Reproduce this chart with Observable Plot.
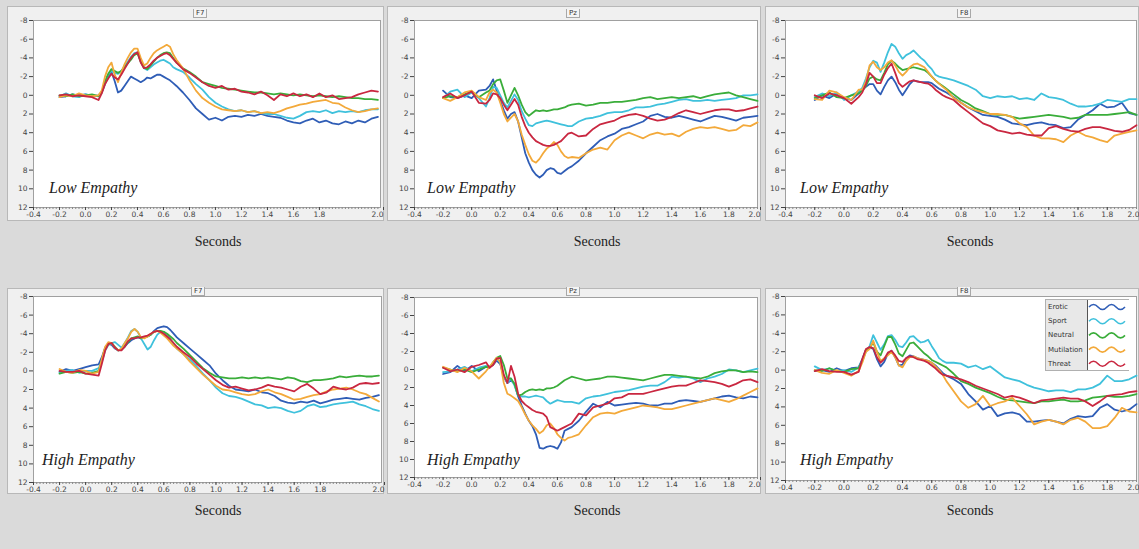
<!DOCTYPE html>
<html><head><meta charset="utf-8">
<script src="https://cdn.jsdelivr.net/npm/d3@7"></script>
<script src="https://cdn.jsdelivr.net/npm/@observablehq/plot@0.6"></script>
<style>
body{margin:0;background:#dadada;}
#root{position:relative;width:1139px;height:549px;background:#dadada;overflow:hidden;font-family:"DejaVu Sans",sans-serif;}
.frame{position:absolute;background:#f0f0f0;border:1px solid #b8b8b8;box-sizing:border-box;}
.holder{position:absolute;}
.holder svg{overflow:visible;}
.ptitle{position:absolute;font-size:7px;line-height:8px;height:9px;padding:0 2px;border:1px solid #a8a8a8;border-top:none;background:#f4f4f4;color:#333;box-sizing:border-box;}
.secs{position:absolute;font-family:"Liberation Serif","DejaVu Serif",serif;font-size:14px;color:#222;transform:translateX(-50%);white-space:nowrap;}
.emp{position:absolute;font-family:"Liberation Serif","DejaVu Serif",serif;font-style:italic;font-size:16px;color:#222;white-space:nowrap;}
.legend{position:absolute;background:#e8e8e8;border:1px solid #b0b0b0;box-sizing:border-box;}
.legend .lab{position:absolute;font-size:7px;color:#333;}
.legend svg{position:absolute;}
</style></head>
<body><div id="root"></div>
<script>
const series = ["Erotic","Sport","Neutral","Mutilation","Threat"];
const colors = ["#2f5db6","#3fc1dc","#3aad3a","#f3a93a","#c92740"];
const yTicks = [-8,-6,-4,-2,0,2,4,6,8,10,12];
const xTicksF7 = [-0.4,-0.2,0.0,0.2,0.4,0.6,0.8,1.0,1.2,1.4,1.6,1.8,2.27];
const xTicksMid = [-0.4,-0.2,0.0,0.2,0.4,0.6,0.8,1.0,1.2,1.4,1.6,1.8,2.0];

const timeF7 = [-0.2,-0.15,-0.1,-0.05,0,0.05,0.1,
 0.125,0.15,0.175,0.2,0.225,0.25,0.275,0.3,0.325,0.35,0.375,0.4,0.425,0.45,0.475,0.5,0.525,0.55,0.575,0.6,0.625,0.65,0.675,0.7,
 0.75,0.8,0.85,0.9,0.95,1.0,1.05,1.1,1.15,1.2,1.25,1.3,1.35,1.4,1.45,1.5,1.55,1.6,1.65,1.7,1.75,1.8,1.85,1.9,1.95,2.0,2.05,2.1,2.15,2.2,2.25];
const timeMid = [-0.2,-0.15,-0.1,-0.05,0,0.05,0.1,
 0.125,0.15,0.175,0.2,0.225,0.25,0.275,0.3,0.325,0.35,0.375,0.4,0.425,0.45,0.475,0.5,0.525,0.55,0.575,0.6,0.625,0.65,0.675,0.7,
 0.75,0.8,0.85,0.9,0.95,1.0,1.05,1.1,1.15,1.2,1.25,1.3,1.35,1.4,1.45,1.5,1.55,1.6,1.65,1.7,1.75,1.8,1.85,1.9,1.95,2.0];

// F7 Low Empathy
const f7LowErotic = [0.2,0.1,-0.1,0,-0.1,0.1,0,
 -0.3,-1.2,-2.0,-2.5,-1.5,-0.3,-0.5,-1.0,-1.5,-2.0,-1.8,-1.6,-1.4,-1.6,-1.9,-1.8,-2.0,-2.2,-2.2,-2.0,-1.8,-1.6,-1.3,-1.0,
 -0.3,0.5,1.4,2.0,2.6,2.4,2.7,2.3,2.2,2.3,2.1,2.2,2.0,2.2,2.3,2.4,2.7,2.9,3.0,2.7,2.5,2.9,2.7,3.0,3.1,2.8,3.0,2.7,2.9,2.5,2.3];
const f7LowSport = [0.1,-0.2,0.1,0.2,-0.1,0,0.1,
 -0.3,-1.3,-2.2,-2.6,-2.4,-2.3,-2.6,-3.1,-3.6,-4.1,-4.5,-4.6,-3.6,-2.9,-2.7,-3.0,-3.3,-3.5,-3.7,-3.8,-3.6,-3.4,-3.0,-2.8,
 -2.5,-1.9,-1.2,-0.6,0.2,0.8,1.2,1.5,1.7,1.6,1.8,1.7,1.9,2.0,2.0,2.2,2.4,2.5,2.2,1.8,1.7,1.8,1.6,1.9,1.7,1.8,1.7,1.8,1.6,1.5,1.5];
const f7LowNeutral = [0,0.1,-0.1,0.1,0,-0.1,0.1,
 -0.3,-1.5,-2.3,-2.8,-2.6,-2.4,-2.6,-3.0,-3.4,-3.8,-4.3,-4.5,-3.6,-3.0,-2.8,-3.2,-3.6,-4.0,-4.3,-4.5,-4.6,-4.5,-4.0,-3.5,
 -2.9,-2.5,-2.0,-1.4,-1.2,-1.0,-0.8,-0.7,-0.6,-0.5,-0.4,-0.3,-0.3,-0.2,-0.1,-0.2,-0.1,0,-0.1,0,0.1,0,0.1,0.2,0.1,0.2,0.3,0.3,0.4,0.4,0.5];
const f7LowMutilation = [0.2,0,0.1,-0.2,0,0.1,0,
 -0.5,-2.0,-3.0,-3.5,-2.2,-1.4,-2.4,-3.3,-4.0,-4.6,-5.0,-5.0,-4.0,-3.2,-3.4,-4.0,-4.5,-4.8,-5.0,-5.2,-5.4,-5.2,-4.4,-3.8,
 -2.9,-1.6,-0.5,0.3,0.8,1.2,1.5,1.6,1.7,1.6,1.8,1.7,1.9,1.8,1.9,1.7,1.4,1.2,1.0,0.9,0.7,0.6,0.5,0.8,0.9,1.3,1.6,1.8,1.7,1.5,1.4];
const f7LowThreat = [0,-0.1,0.1,0,0.1,0.2,0.5,
 -0.2,-1.2,-1.8,-2.3,-1.9,-1.7,-2.2,-2.8,-3.4,-4.0,-4.4,-4.6,-3.5,-2.9,-3.0,-3.3,-3.7,-4.0,-4.2,-4.4,-4.5,-4.3,-3.9,-3.5,
 -2.8,-2.4,-1.9,-1.4,-1.0,-0.8,-1.0,-0.6,-0.7,-0.4,-0.3,-0.1,-0.4,0.0,0.5,-0.1,0.1,-0.2,0.1,-0.1,0.2,-0.2,0.2,0.0,0.4,0.3,0.2,-0.1,-0.3,-0.5,-0.4];

// Pz Low Empathy
const pzLowErotic = [-0.5,0.2,0.3,0,0.3,-0.5,-0.6,
 -1.0,-1.7,-0.5,0.6,1.6,2.5,2.0,1.8,2.8,4.5,6.2,7.2,8.0,8.5,8.8,8.5,8.0,7.8,7.9,8.3,8.4,8.1,7.8,7.6,
 7.0,6.2,5.5,4.8,4.4,4.1,3.6,3.4,3.1,2.8,2.2,2.0,2.3,2.4,2.2,2.4,2.6,2.8,2.5,2.2,2.3,2.5,2.7,2.4,2.3,2.2];
const pzLowSport = [0.3,-0.4,-0.6,0.2,-0.3,0.3,1.2,
 0.3,-0.9,-0.8,0.0,0.8,1.3,0.6,-0.1,0.5,1.7,2.5,3.2,3.3,3.0,2.9,2.8,2.7,2.8,2.9,3.0,3.1,3.2,3.3,3.3,
 2.8,2.5,2.4,2.2,1.9,1.8,1.8,1.6,1.3,1.3,1.2,1.0,0.9,0.7,0.5,0.4,0.6,0.6,0.5,0.6,0.5,0.4,0.3,0.0,0.0,-0.1];
const pzLowNeutral = [0.3,0.1,0.2,-0.1,-0.4,0.2,-0.3,
 -0.5,-1.2,-1.6,-1.7,-0.5,0.8,0.0,-0.8,0.0,1.0,1.8,2.2,1.9,1.6,1.7,1.6,1.7,1.6,1.5,1.5,1.4,1.3,1.1,1.0,
 0.9,1.1,1.0,0.8,0.8,0.7,0.7,0.6,0.5,0.3,0.2,0.4,0.3,0.2,0.3,0.2,0.1,0.3,0.1,-0.1,-0.2,-0.3,0.0,0.2,0.4,0.6];
const pzLowMutilation = [0.3,0.6,0.2,-0.3,-0.5,0.2,0.5,
 -0.3,-0.6,-0.3,0.8,2.0,2.8,2.4,2.0,2.8,4.2,5.3,6.3,7.0,7.2,6.8,6.2,5.7,5.4,5.0,5.3,6.0,6.5,6.7,6.6,
 6.7,6.2,5.8,5.6,5.8,4.8,4.3,4.0,4.3,4.6,4.2,4.0,4.2,4.1,4.4,3.9,3.6,3.4,3.5,3.4,3.6,3.8,3.7,3.2,3.3,2.9];
const pzLowThreat = [0.2,-0.2,0.3,0,-0.4,0.8,0.9,
 0.5,-0.2,-0.1,0.3,1.0,1.6,1.0,0.4,1.0,2.3,3.3,4.0,4.5,4.9,5.1,5.3,5.4,5.4,5.3,5.1,4.9,4.5,4.1,4.0,
 4.4,4.3,3.6,3.1,2.9,2.7,2.3,2.1,2.0,2.2,2.5,2.7,2.6,2.3,1.9,1.6,1.8,2.0,1.8,1.6,1.5,1.5,1.7,1.6,1.4,1.2];

// F8 Low Empathy
const f8LowErotic = [0.5,0.0,0.3,-0.2,0.3,0.5,-0.2,
 -0.6,-0.9,-1.2,-1.2,-0.5,-0.1,-0.9,-1.6,-2.0,-1.4,-0.6,0.0,-0.6,-1.2,-1.6,-1.5,-1.4,-1.4,-1.4,-1.3,-1.0,-0.7,-0.5,-0.3,
 0.2,0.8,1.3,1.7,2.1,2.2,2.3,2.6,3.0,3.1,3.2,3.0,2.9,3.1,3.2,3.5,3.4,2.6,2.1,1.6,0.9,1.3,1.2,0.8,1.9,2.1];
const f8LowSport = [0.2,-0.2,0.1,-0.3,0.5,0.0,-0.4,
 -0.8,-1.8,-3.0,-3.7,-3.5,-2.5,-3.5,-4.6,-5.5,-5.2,-4.5,-3.9,-4.3,-4.5,-4.8,-4.4,-4.0,-3.7,-3.2,-2.8,-2.2,-2.0,-1.9,-1.8,
 -1.6,-1.3,-1.0,-0.6,0.1,0.3,0.1,0.2,0.1,0.4,0.3,0.5,-0.2,0.2,0.3,0.5,0.9,1.2,1.2,1.1,0.9,0.5,0.6,0.7,0.4,0.4];
const f8LowNeutral = [0.3,0.0,-0.3,0.2,0.3,0.0,-0.2,
 -0.5,-1.0,-1.8,-2.0,-1.7,-1.6,-2.4,-3.3,-3.7,-3.4,-3.0,-2.7,-2.8,-2.9,-3.0,-2.9,-2.8,-2.7,-2.4,-2.0,-1.6,-1.25,-1.0,-0.7,
 -0.1,0.5,0.9,1.4,1.7,2.0,2.1,2.1,2.3,2.5,2.4,2.3,2.2,2.1,2.2,2.3,2.5,2.4,2.1,2.1,2.1,2.1,2.0,1.9,1.8,2.1];
const f8LowMutilation = [0.4,0.5,-0.5,-0.3,0.2,0.5,-0.6,
 -0.6,-1.5,-3.2,-3.6,-3.0,-2.7,-3.0,-3.5,-3.75,-3.2,-2.5,-2.1,-2.5,-3.0,-3.3,-3.4,-3.2,-3.0,-2.5,-2.0,-1.6,-1.25,-0.9,-0.6,
 0.3,0.8,1.3,1.6,1.8,2.0,2.0,2.1,2.3,3.0,3.4,4.3,4.6,4.6,4.7,5.0,4.3,3.9,4.3,4.5,4.8,5.0,4.3,4.1,3.9,3.75];
const f8LowThreat = [0.0,0.3,-0.2,0.0,0.3,0.9,0.2,
 -0.3,-1.2,-2.4,-2.0,-1.3,-1.3,-2.2,-2.9,-3.4,-2.4,-1.3,-0.9,-1.2,-1.5,-1.6,-1.5,-1.4,-1.3,-1.25,-1.0,-0.6,-0.3,0.0,0.2,
 0.5,1.2,1.8,2.4,3.0,3.3,3.75,3.9,4.1,4.0,4.2,4.3,4.3,3.5,3.3,3.6,3.8,3.9,3.6,3.4,3.4,3.6,3.8,3.9,3.7,3.2];

// F7 High Empathy
const f7HighErotic = [0.1,-0.2,0.0,-0.2,-0.4,-0.6,-0.7,
 -1.5,-2.5,-2.9,-2.8,-2.4,-2.2,-2.3,-2.6,-3.0,-3.3,-3.5,-3.6,-3.5,-3.6,-3.7,-3.9,-4.3,-4.6,-4.7,-4.8,-4.7,-4.4,-4.0,-3.6,
 -3.0,-2.4,-1.8,-1.2,-0.6,0.3,1.0,1.6,2.0,2.1,2.2,2.0,2.3,2.4,2.7,3.2,3.4,3.5,3.3,3.4,3.2,3.5,3.3,3.1,3.0,2.9,3.0,3.1,2.9,2.8,2.6];
const f7HighSport = [0.2,0.0,-0.1,0.2,0.0,0.0,-0.3,
 -1.0,-2.2,-2.8,-3.0,-3.1,-2.8,-2.5,-3.0,-3.6,-4.3,-4.5,-4.2,-3.5,-2.9,-2.3,-2.6,-3.3,-3.9,-4.2,-4.2,-3.9,-3.4,-2.9,-2.4,
 -1.8,-1.2,-0.5,0.3,1.0,1.8,2.4,2.7,2.8,3.0,3.3,3.6,3.7,4.0,3.9,4.0,4.3,4.5,4.3,3.8,3.6,3.9,3.8,3.6,3.5,3.4,3.3,3.6,3.8,4.1,4.3];
const f7HighNeutral = [0.3,0.1,0.2,0.1,0.3,0.2,0.0,
 -1.2,-2.4,-2.9,-3.0,-2.6,-2.2,-2.3,-2.7,-3.1,-3.5,-3.6,-3.7,-3.5,-3.6,-3.7,-3.9,-4.2,-4.3,-4.3,-4.2,-4.0,-3.7,-3.4,-3.0,
 -2.4,-1.7,-1.0,-0.3,0.2,0.6,0.7,0.8,0.8,0.7,0.8,0.7,0.8,0.7,0.8,0.9,0.7,0.8,1.1,1.2,1.0,1.0,0.9,0.8,0.6,0.7,0.6,0.5,0.6,0.6,0.5];
const f7HighMutilation = [-0.2,0.1,0.2,-0.1,0.0,0.3,0.1,
 -1.3,-2.6,-3.1,-3.0,-2.5,-2.2,-2.4,-3.0,-3.5,-4.2,-4.5,-4.2,-3.6,-3.5,-3.7,-4.0,-4.2,-4.3,-4.1,-3.8,-3.5,-3.1,-2.7,-2.4,
 -1.8,-1.0,-0.3,0.4,1.0,1.6,2.0,2.1,2.3,2.5,2.6,2.5,2.2,2.0,2.3,2.5,2.8,3.1,3.0,2.8,2.6,2.5,2.2,2.0,1.9,1.8,2.0,2.3,2.5,2.9,3.3];
const f7HighThreat = [0.0,0.1,0.1,0.0,0.3,0.4,0.5,
 -0.8,-2.2,-2.9,-3.0,-2.5,-2.2,-2.2,-2.6,-3.2,-3.5,-3.5,-3.6,-3.6,-3.7,-3.8,-4.0,-4.2,-4.3,-4.2,-4.0,-3.7,-3.4,-3.0,-2.6,
 -2.0,-1.5,-0.8,-0.2,0.4,1.0,1.5,1.8,1.7,1.9,2.1,2.0,1.8,1.5,1.7,1.8,2.0,2.2,1.7,1.4,1.9,2.5,2.3,1.7,1.9,2.0,1.8,1.4,1.3,1.4,1.3];

// Pz High Empathy
const pzHighErotic = [0.5,0.3,-0.4,0.2,-0.4,0.2,-0.3,
 -0.3,-0.5,-1.0,-0.6,0.8,1.5,1.2,1.6,3.0,4.0,4.9,5.7,6.3,7.2,8.7,8.8,8.6,8.5,8.6,8.8,8.1,6.8,6.6,6.4,
 5.7,4.7,3.8,4.2,3.6,4.0,3.9,3.8,3.7,3.8,4.0,4.0,3.8,3.8,3.5,3.4,3.5,3.6,3.4,3.2,3.0,2.9,3.1,3.2,3.0,3.1];
const pzHighSport = [0.3,0.2,0.0,-0.3,0.2,-0.2,-0.4,
 -0.3,-0.6,-1.2,-0.8,0.8,1.5,1.0,1.8,2.9,3.0,3.0,3.1,3.0,2.9,3.0,3.1,3.5,3.8,3.6,3.4,3.5,3.6,3.6,3.6,
 3.8,3.2,3.0,2.9,2.7,2.5,2.4,2.3,2.1,1.9,1.8,1.8,1.4,0.8,0.9,0.8,1.0,1.4,1.0,0.8,0.5,0.0,0.1,0.3,0.1,-0.1];
const pzHighNeutral = [-0.2,0.0,0.2,0.0,0.3,0.0,-0.3,
 -0.2,-0.8,-1.3,-1.5,-0.5,1.0,1.0,1.6,2.9,2.8,2.5,2.3,2.2,2.3,2.2,2.3,2.1,2.1,2.0,1.8,1.5,1.2,1.0,0.8,
 1.0,1.2,1.1,1.0,0.8,0.8,0.9,1.0,1.1,1.2,1.0,0.8,0.6,0.6,0.7,0.8,0.9,1.0,0.8,0.4,0.2,0.1,0.1,0.3,0.2,0.3];
const pzHighMutilation = [-0.3,0.0,0.3,-0.2,0.2,1.0,0.2,
 -0.3,-0.8,-1.3,-0.8,1.5,2.7,2.9,3.2,3.5,4.2,5.0,5.7,6.2,6.6,7.1,6.8,6.2,6.0,6.5,7.2,7.6,7.9,7.6,7.5,
 7.2,6.2,5.3,4.9,4.8,4.9,4.6,4.4,4.2,4.0,4.1,4.2,4.4,4.4,4.2,4.0,3.8,3.6,3.4,3.2,3.4,3.6,3.3,2.9,2.5,2.1];
const pzHighThreat = [-0.2,0.2,0.0,0.3,-0.3,-0.5,-0.8,
 -0.2,-0.5,-1.2,-1.3,0.6,1.5,-0.4,0.8,2.7,3.5,3.9,4.2,4.5,4.7,4.8,4.9,5.3,6.4,6.6,6.8,6.6,6.4,6.2,6.0,
 4.9,5.1,4.2,4.0,3.8,3.2,3.1,2.7,2.7,2.7,2.5,2.3,2.1,1.9,1.8,1.8,1.5,1.2,1.3,1.4,1.6,1.9,1.6,1.2,1.1,1.4];

// F8 High Empathy
const f8HighErotic = [0.1,0.0,0.2,-0.2,0.1,-0.2,-0.3,
 -1.2,-2.2,-2.5,-2.3,-1.2,-0.4,-0.9,-1.8,-2.1,-1.4,-0.5,-0.6,-1.3,-1.6,-1.5,-1.3,-1.2,-1.1,-1.0,-0.8,-0.5,-0.1,0.3,0.6,
 1.0,1.5,2.6,3.4,4.3,3.9,5.0,4.7,4.6,4.8,5.6,5.6,5.5,5.4,5.6,5.8,5.3,5.0,5.1,5.0,4.1,3.7,4.3,4.5,4.3,3.7];
const f8HighSport = [-0.4,0.0,-0.2,0.1,0.0,0.2,-0.3,
 -1.0,-2.0,-2.6,-3.8,-3.0,-2.2,-2.8,-3.7,-3.8,-3.3,-2.6,-2.5,-3.0,-3.6,-3.7,-3.3,-3.0,-3.1,-3.3,-2.6,-2.0,-1.3,-1.0,-0.8,
 -0.8,-0.7,-0.3,-0.5,-0.1,-0.4,0.2,0.8,1.0,1.2,1.6,1.9,2.1,2.3,2.2,2.2,2.4,2.1,2.1,1.9,1.5,0.6,1.2,1.2,1.0,0.6];
const f8HighNeutral = [0.0,0.1,-0.2,0.1,0.2,-0.1,-0.2,
 -1.0,-2.2,-2.4,-3.0,-2.0,-1.6,-2.6,-3.6,-3.6,-2.8,-1.8,-1.5,-2.2,-2.9,-3.0,-2.6,-2.2,-1.8,-1.5,-1.1,-0.9,-0.7,-0.5,-0.3,
 0.4,1.2,1.5,1.9,2.2,2.5,2.9,3.2,3.3,3.4,3.5,3.6,3.4,3.4,3.3,3.2,3.4,3.4,3.3,3.0,2.9,2.8,2.9,2.9,2.8,2.6];
const f8HighMutilation = [0.0,0.3,0.4,0.0,0.3,0.6,0.1,
 -0.8,-2.0,-2.3,-3.2,-2.0,-1.0,-1.3,-1.6,-2.0,-1.4,-0.5,-0.3,-1.0,-1.4,-1.5,-1.3,-1.2,-1.1,-1.0,-0.8,-0.4,0.0,0.5,1.2,
 2.3,3.4,4.1,3.7,2.8,3.9,3.6,3.4,3.0,3.9,4.8,5.9,5.6,5.4,5.6,5.9,5.4,5.2,5.6,6.3,6.3,6.1,5.2,4.1,4.5,4.6];
const f8HighThreat = [0.1,-0.1,0.1,0.2,0.2,0.5,0.2,
 -1.2,-2.3,-2.5,-2.4,-1.4,-0.8,-1.2,-1.9,-2.1,-1.6,-1.0,-0.9,-1.3,-1.5,-1.4,-1.2,-1.1,-1.0,-0.8,-0.5,-0.2,0.2,0.5,0.6,
 0.8,1.0,1.3,1.7,2.0,2.3,2.6,3.0,2.8,3.0,3.3,3.6,3.3,3.2,3.1,3.0,3.1,3.1,3.4,3.9,3.4,2.8,2.7,2.6,2.4,2.3];

const panels = [
  {name:"F7", group:"Low Empathy",  time:timeF7,  arrs:[f7LowErotic,f7LowSport,f7LowNeutral,f7LowMutilation,f7LowThreat],
   frame:[7,6,377,215], plot:[33,20,380,207], xMax:2.27, xt:xTicksF7, title:[193,9], secs:[218,234], emp:[49,179]},
  {name:"Pz", group:"Low Empathy",  time:timeMid, arrs:[pzLowErotic,pzLowSport,pzLowNeutral,pzLowMutilation,pzLowThreat],
   frame:[387,6,374,215], plot:[414,20,757,207], xMax:2.0, xt:xTicksMid, title:[566,9], secs:[597,234], emp:[427,179]},
  {name:"F8", group:"Low Empathy",  time:timeMid, arrs:[f8LowErotic,f8LowSport,f8LowNeutral,f8LowMutilation,f8LowThreat],
   frame:[765,6,374,215], plot:[785,20,1136,207], xMax:2.0, xt:xTicksMid, title:[957,9], secs:[970,234], emp:[800,179]},
  {name:"F7", group:"High Empathy", time:timeF7,  arrs:[f7HighErotic,f7HighSport,f7HighNeutral,f7HighMutilation,f7HighThreat],
   frame:[7,288,377,206], plot:[33,296,381,482], xMax:2.27, xt:xTicksF7, title:[191,287], secs:[218,503], emp:[42,451]},
  {name:"Pz", group:"High Empathy", time:timeMid, arrs:[pzHighErotic,pzHighSport,pzHighNeutral,pzHighMutilation,pzHighThreat],
   frame:[387,288,374,206], plot:[414,297,757,477], xMax:2.0, xt:xTicksMid, title:[566,287], secs:[597,503], emp:[427,451]},
  {name:"F8", group:"High Empathy", time:timeMid, arrs:[f8HighErotic,f8HighSport,f8HighNeutral,f8HighMutilation,f8HighThreat],
   frame:[765,288,374,206], plot:[785,296,1136,480], xMax:2.0, xt:xTicksMid, title:[957,287], secs:[970,503], emp:[800,451]}
];

const root = document.getElementById("root");
function el(cls, css, text){ const d=document.createElement("div"); d.className=cls; Object.assign(d.style, css); if(text!=null) d.textContent=text; root.appendChild(d); return d; }

panels.forEach(p => {
  const [fx, fy, fw, fh] = p.frame;
  const [pl, pt, pr, pb] = p.plot;
  el("frame", {left:fx+"px", top:fy+"px", width:fw+"px", height:fh+"px"});
  const data = [];
  p.arrs.forEach((a, i) => a.forEach((v, j) => data.push({t: p.time[j], v, s: series[i]})));
  const minor = d3.range(-0.4, p.xMax + 1e-6, 0.025);
  const lastTick = p.xt.slice(-1);
  const chart = Plot.plot({
    width: fw, height: fh,
    marginLeft: pl - fx, marginTop: pt - fy, marginRight: fx + fw - pr, marginBottom: fy + fh - pb,
    style: {background: "transparent", fontFamily: "DejaVu Sans, sans-serif", fontSize: "7.5px", color: "#444"},
    x: {domain: [-0.4, p.xMax]},
    y: {domain: [-8, 12], reverse: true},
    color: {domain: series, range: colors},
    marks: [
      Plot.frame({fill: "white", stroke: "#a0a0a0"}),
      Plot.axisY({ticks: yTicks, tickSize: 4, tickPadding: 2, tickFormat: d => String(d), label: null}),
      Plot.axisX({ticks: minor, tickSize: 2, tickFormat: () => "", label: null, stroke: "#888"}),
      Plot.axisX({ticks: p.xt.slice(0, -1), tickSize: 3, tickPadding: 1, label: null,
                  tickFormat: d => d.toFixed(1)}),
      Plot.axisX({ticks: lastTick, tickSize: 3, tickPadding: 1, label: null, textAnchor: "end", dx: 3,
                  tickFormat: () => "2.0"}),
      Plot.lineY(data, {x: "t", y: "v", z: "s", stroke: "s", strokeWidth: 1.8})
    ]
  });
  const h = el("holder", {left: fx + "px", top: fy + "px"});
  h.appendChild(chart);
  el("ptitle", {left: p.title[0] + "px", top: p.title[1] + "px"}, p.name);
  el("secs", {left: p.secs[0] + "px", top: p.secs[1] + "px"}, "Seconds");
  el("emp", {left: p.emp[0] + "px", top: p.emp[1] + "px"}, p.group);
});

// legend
const lg = el("legend", {left: "1045px", top: "299px", width: "84px", height: "72px"});
series.forEach((s, i) => {
  const lab = document.createElement("div");
  lab.className = "lab"; lab.textContent = s;
  Object.assign(lab.style, {left: "2px", top: (3 + i * 14.2) + "px"});
  lg.appendChild(lab);
});
const sw = d3.create("svg").attr("width", 41).attr("height", 70)
  .style("left", "41px").style("top", "0px").style("background", "white")
  .style("border-left", "1px solid #555");
series.forEach((s, i) => {
  const y0 = 7 + i * 14.2;
  sw.append("path")
    .attr("d", `M1,${y0} Q5.5,${y0-5} 10,${y0} T19,${y0} T28,${y0} T37,${y0}`)
    .attr("fill", "none").attr("stroke", colors[i]).attr("stroke-width", 1.6);
});
lg.appendChild(sw.node());
</script>
</body></html>
